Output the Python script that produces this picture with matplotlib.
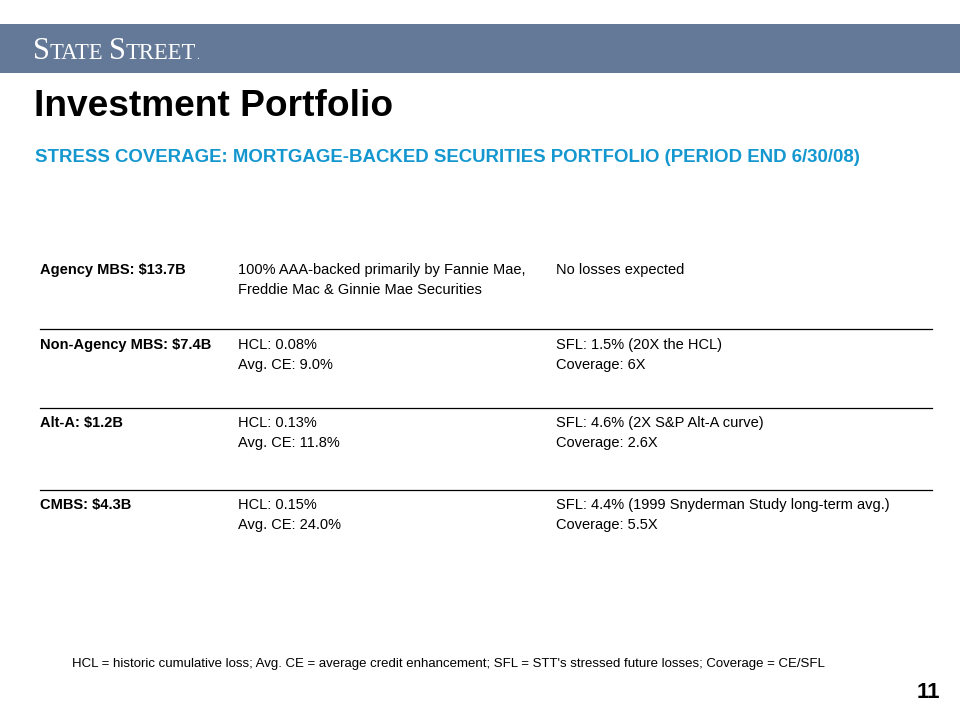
import matplotlib.pyplot as plt
from matplotlib.patches import Rectangle

plt.rcParams['font.family'] = ['Liberation Sans', 'DejaVu Sans']

# slide content
title = "Investment Portfolio"
subtitle = "STRESS COVERAGE: MORTGAGE-BACKED SECURITIES PORTFOLIO (PERIOD END 6/30/08)"
segments = ["Agency MBS: $13.7B", "Non-Agency MBS: $7.4B", "Alt-A: $1.2B", "CMBS: $4.3B"]
loss_notes = [
    ["100% AAA-backed primarily by Fannie Mae,", "Freddie Mac & Ginnie Mae Securities"],
    ["HCL: 0.08%", "Avg. CE: 9.0%"],
    ["HCL: 0.13%", "Avg. CE: 11.8%"],
    ["HCL: 0.15%", "Avg. CE: 24.0%"],
]
stress_notes = [
    ["No losses expected"],
    ["SFL: 1.5% (20X the HCL)", "Coverage: 6X"],
    ["SFL: 4.6% (2X S&P Alt-A curve)", "Coverage: 2.6X"],
    ["SFL: 4.4% (1999 Snyderman Study long-term avg.)", "Coverage: 5.5X"],
]
footnote = ("HCL = historic cumulative loss; Avg. CE = average credit enhancement; "
            "SFL = STT's stressed future losses; Coverage = CE/SFL")
page_no = "11"

fig = plt.figure(figsize=(9.6, 7.2), dpi=100)
ax = fig.add_axes([0, 0, 1, 1])
ax.set_xlim(0, 960)
ax.set_ylim(720, 0)
ax.axis('off')

# header band
ax.add_patch(Rectangle((0, 24), 960, 49, color='#647997', lw=0))

# small-caps style logo, pieces laid out one after another
renderer = fig.canvas.get_renderer()
x = 33
for piece, size in [("S", 22), ("TATE", 16.3), (" ", 16.3), ("S", 22), ("TREET", 16.3), (".", 8)]:
    t = ax.text(x, 59, piece, color='white', fontsize=size, family='Liberation Serif',
                va='baseline')
    bb = t.get_window_extent(renderer)
    x += bb.width

ax.text(34, 106, title, fontsize=26.7, fontweight='bold', va='center')
ax.text(35, 157, subtitle, fontsize=13.4, fontweight='bold', color='#1497cf', va='center')

col_x = [40, 238, 556]
row_top = [270, 345, 423, 505]
sep_y = [329, 408, 490]
line_gap = 20

for i, seg in enumerate(segments):
    y0 = row_top[i]
    ax.text(col_x[0], y0, seg, fontsize=10.5, fontweight='bold', va='center')
    for j, s in enumerate(loss_notes[i]):
        ax.text(col_x[1], y0 + j * line_gap, s, fontsize=10.5, va='center')
    for j, s in enumerate(stress_notes[i]):
        ax.text(col_x[2], y0 + j * line_gap, s, fontsize=10.5, va='center')

for y in sep_y:
    ax.plot([40, 932], [y, y], color='black', lw=0.9)

ax.text(72, 664, footnote, fontsize=9.55, va='center')
ax.text(940, 693, page_no, fontsize=16, fontweight='bold', ha='right', va='center')

fig.savefig('out.png', dpi=100)
